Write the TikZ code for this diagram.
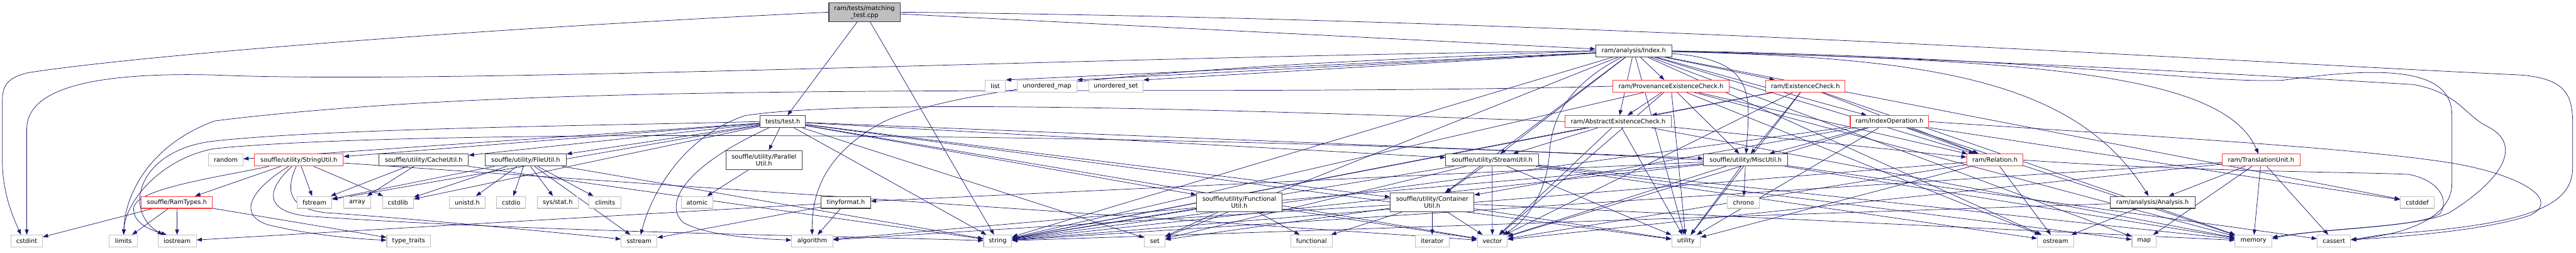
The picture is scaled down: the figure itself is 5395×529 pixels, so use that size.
\documentclass[tikz,border=0pt]{standalone}
\usepackage{fontspec}
\newfontfamily\dfont{DejaVu Sans}
\usetikzlibrary{arrows.meta}
\definecolor{edgeblue}{HTML}{191970}
\definecolor{sysgray}{HTML}{C0C0C0}
\definecolor{prjgray}{HTML}{404040}
\definecolor{truncred}{HTML}{FF3B3B}
\definecolor{mainfill}{HTML}{BFBFBF}
\pgfdeclarelayer{bg}
\pgfsetlayers{bg,main}
\tikzset{
  hdr/.style={rectangle, fill=white, line width=1.4pt, minimum height=25pt,
    inner sep=0pt, align=center, font=\dfont\fontsize{12.9}{15}\selectfont},
  sys/.style={hdr, draw=sysgray},
  prj/.style={hdr, draw=prjgray},
  trunc/.style={hdr, draw=truncred},
  dep/.style={draw=edgeblue, line width=0.95pt, -{Triangle[length=11pt,width=8pt]}},
}
\begin{document}
\begin{tikzpicture}[x=1pt,y=-1pt]
\useasboundingbox (0,0) rectangle (5395,529);
% ---------- nodes ----------
\node[prj, fill=mainfill, minimum width=149pt, minimum height=39pt] (mt) at (1810.5,25.5) {ram/tests/matching\\\_test.cpp};
\node[prj, minimum width=159pt] (ix) at (3421.5,106.5) {ram/analysis/Index.h};
\node[sys, minimum width=43pt] (list) at (2084.5,180.5) {list};
\node[sys, minimum width=124pt] (umap) at (2193,180.5) {unordered\_map};
\node[sys, minimum width=114pt] (uset) at (2337,180.5) {unordered\_set};
\node[trunc, minimum width=243pt] (pec) at (3499.5,180.5) {ram/ProvenanceExistenceCheck.h};
\node[trunc, minimum width=166pt] (ec) at (3781,180.5) {ram/ExistenceCheck.h};
\node[trunc, minimum width=222pt] (aec) at (3389,254.5) {ram/AbstractExistenceCheck.h};
\node[trunc, minimum width=164pt] (io) at (3957,254.5) {ram/IndexOperation.h};
\node[prj, minimum width=95pt] (th) at (1639.5,254.5) {tests/test.h};
% row 3
\node[sys, minimum width=72pt] (random) at (473,335) {random};
\node[trunc, minimum width=186pt] (strutil) at (626,335) {souffle/utility/StringUtil.h};
\node[prj, minimum width=187pt] (cache) at (887.5,335) {souffle/utility/CacheUtil.h};
\node[prj, minimum width=170pt] (file) at (1101,335) {souffle/utility/FileUtil.h};
\node[prj, minimum width=160pt, minimum height=40pt] (par) at (1600,335) {souffle/utility/Parallel\\Util.h};
\node[prj, minimum width=194pt] (stream) at (3125,335) {souffle/utility/StreamUtil.h};
\node[prj, minimum width=176pt] (misc) at (3656,335) {souffle/utility/MiscUtil.h};
\node[trunc, minimum width=118pt] (rel) at (4178,335) {ram/Relation.h};
\node[trunc, minimum width=163pt] (tu) at (4735.5,335) {ram/TranslationUnit.h};
% row 4
\node[trunc, minimum width=149pt] (ramtypes) at (370.5,423.5) {souffle/RamTypes.h};
\node[sys, minimum width=73pt] (fstream) at (658.5,423.5) {fstream};
\node[sys, minimum width=56pt] (array) at (748,423.5) {array};
\node[sys, minimum width=65pt] (cstdlib) at (833.5,423.5) {cstdlib};
\node[sys, minimum width=75pt] (unistd) at (978.5,423.5) {unistd.h};
\node[sys, minimum width=61pt] (cstdio) at (1070.5,423.5) {cstdio};
\node[sys, minimum width=86pt] (sysstat) at (1168,423.5) {sys/stat.h};
\node[sys, minimum width=67pt] (climits) at (1267.5,423.5) {climits};
\node[sys, minimum width=66pt] (atomic) at (1460,423.5) {atomic};
\node[prj, minimum width=103pt] (tinyformat) at (1771.5,423.5) {tinyformat.h};
\node[prj, minimum width=179pt, minimum height=39pt] (funcutil) at (2595.5,423.5) {souffle/utility/Functional\\Util.h};
\node[prj, minimum width=175pt, minimum height=39pt] (contutil) at (2999.5,423.5) {souffle/utility/Container\\Util.h};
\node[sys, minimum width=67pt] (chrono) at (3651.5,423.5) {chrono};
\node[prj, minimum width=178pt] (an) at (4508,423.5) {ram/analysis/Analysis.h};
\node[sys, minimum width=71pt] (cstddef) at (5062.5,423.5) {cstddef};
% row 5
\node[sys, minimum width=66pt] (cstdint) at (56,504.5) {cstdint};
\node[sys, minimum width=59pt] (limits) at (258.5,504.5) {limits};
\node[sys, minimum width=80pt] (iostream) at (371,504.5) {iostream};
\node[sys, minimum width=92pt] (typetraits) at (856,504.5) {type\_traits};
\node[sys, minimum width=75pt] (sstream) at (1338.5,504.5) {sstream};
\node[sys, minimum width=86pt] (algorithm) at (1701,504.5) {algorithm};
\node[sys, minimum width=59pt] (string) at (2089.5,504.5) {string};
\node[sys, minimum width=43pt] (set) at (2418.5,504.5) {set};
\node[sys, minimum width=87pt] (functional) at (2746.5,504.5) {functional};
\node[sys, minimum width=71pt] (iterator) at (2999.5,504.5) {iterator};
\node[sys, minimum width=63pt] (vector) at (3125.5,504.5) {vector};
\node[sys, minimum width=60pt] (utility) at (3531,504.5) {utility};
\node[sys, minimum width=76pt] (ostream) at (4305,504.5) {ostream};
\node[sys, minimum width=51pt] (map) at (4490.5,504.5) {map};
\node[sys, minimum width=77pt] (memory) at (4719.5,504.5) {memory};
\node[sys, minimum width=70pt] (cassert) at (4888,504.5) {cassert};
% ---------- edges ----------
\begin{pgfonlayer}{bg}
\foreach \t in {th,ix,string} \draw[dep] (mt) -- (\t);
\foreach \t in {random,strutil,cache,file,par,fstream,cstdlib,contutil,stream,misc,funcutil,string,set,vector,utility} \draw[dep] (th) -- (\t);
\foreach \t in {list.north east,umap.north east,uset.north east,pec,aec,ec,io,rel,stream,contutil,set,string,utility,ostream,map,cstddef} \draw[dep] (ix) -- (\t);
\foreach \t in {aec,rel,misc,utility,string,vector,ostream,memory} \draw[dep] (pec) -- (\t);
\foreach \t in {stream,rel,utility,string,vector,memory} \draw[dep] (aec) -- (\t);
\foreach \t in {aec,misc,rel,utility,string,vector,memory} \draw[dep] (ec) -- (\t);
\foreach \t in {misc,rel,contutil,string,vector,utility,memory,cstddef} \draw[dep] (io) -- (\t);
\foreach \t in {string,utility,vector,ostream} \draw[dep] (rel) -- (\t);
\foreach \t in {an,memory,cassert,map,string,vector} \draw[dep] (tu) -- (\t);
\foreach \t in {ostream,string} \draw[dep] (an) -- (\t);
\foreach \t in {chrono,tinyformat,algorithm,cassert,memory,string,utility,vector} \draw[dep] (misc) -- (\t);
\foreach \t in {contutil,vector,utility,string,set,map,ostream,memory} \draw[dep] (stream) -- (\t);
\foreach \t in {iterator,vector,functional,memory,utility,set,algorithm} \draw[dep] (contutil) -- (\t);
\foreach \t in {functional,vector,set,string} \draw[dep] (funcutil) -- (\t);
\foreach \t in {array,fstream,string} \draw[dep] (cache) -- (\t);
\foreach \t in {unistd,cstdio,sysstat,climits,fstream,sstream,string,cstdlib} \draw[dep] (file) -- (\t);
\foreach \t in {ramtypes,fstream,cstdlib,vector} \draw[dep] (strutil) -- (\t);
\foreach \t in {cstdint,limits,iostream,typetraits} \draw[dep] (ramtypes) -- (\t);
\draw[dep] (par) -- (atomic);
\foreach \t in {algorithm,sstream,iostream} \draw[dep] (tinyformat) -- (\t);
% curved edges, left side
\draw[dep] (mt.west) .. controls (1000,60) and (300,115) .. (60,152) .. controls (15,162) and (5,180) .. (5,210) -- (5,337) .. controls (5,400) and (25,450) .. ([xshift=-12pt]cstdint.north);
\draw[dep] (ix.west) .. controls (2300,118) and (950,178) .. (450,157) .. controls (180,150) and (56,190) .. (56,270) -- (cstdint);
\draw[dep] (pec.west) .. controls (2400,205) and (1200,160) .. (450,253) .. controls (320,300) and (262,400) .. (limits);
\draw[dep] (misc.west) .. controls (2600,280) and (900,265) .. (450,311) .. controls (340,330) and (262,420) .. (limits);
\draw[dep] (th.west) .. controls (1300,262) and (700,268) .. (450,295) .. controls (290,312) and (255,440) .. ([xshift=-30pt]iostream.north);
\draw[dep] (strutil) .. controls (450,372) and (285,395) .. (280,435) .. controls (278,465) and (310,480) .. ([xshift=-22pt]iostream.north);
\draw[dep] (strutil) .. controls (520,400) and (500,450) .. (560,470) .. controls (640,490) and (740,500) .. (typetraits);
\draw[dep] (strutil) .. controls (560,395) and (550,440) .. (640,452) .. controls (1100,485) and (1800,495) .. (string);
\draw[dep] (strutil) .. controls (600,395) and (600,435) .. (680,445) .. controls (900,460) and (1200,490) .. (sstream);
\draw[dep] (aec.west) .. controls (2600,230) and (1800,205) .. (1560,242) .. controls (1420,290) and (1360,420) .. (sstream);
\draw[dep] (th) .. controls (1450,340) and (1385,420) .. (1430,465) .. controls (1480,495) and (1600,500) .. (algorithm);
\draw[dep] (ix.west) .. controls (2600,135) and (2050,165) .. (1850,255) .. controls (1730,320) and (1700,400) .. (algorithm);
% curved edges, middle
\draw[dep] (ix) .. controls (3280,180) and (3250,250) .. (3245,320) .. controls (3240,400) and (3200,460) .. (vector);
\draw[dep] (ix) .. controls (3680,125) and (3665,200) .. (misc);
\draw[dep] (ix) .. controls (4300,125) and (4660,160) .. (tu);
\draw[dep] (ix) .. controls (4050,120) and (4350,170) .. (an);
% curved edges, right loops
\draw[dep] (mt.east) .. controls (3300,40) and (4600,125) .. (5280,157) .. controls (5375,165) and (5388,200) .. (5388,260) -- (5388,350) .. controls (5388,430) and (5300,470) .. (5000,490) .. controls (4960,495) and (4940,500) .. (cassert);
\draw[dep] (ix.east) .. controls (4300,120) and (4600,175) .. (4780,168) .. controls (4950,145) and (5135,130) .. (5135,240) -- (5135,385) .. controls (5135,450) and (5050,490) .. (cassert);
\draw[dep] (ix.east) .. controls (4300,130) and (4850,165) .. (5055,177) .. controls (5150,195) and (5160,240) .. (5210,265) .. controls (5280,300) and (5250,370) .. (5130,445) .. controls (5060,478) and (4850,478) .. ([yshift=5pt]memory.east);
\draw[dep] (io.east) .. controls (4500,285) and (4950,310) .. (5145,343) .. controls (5290,370) and (5360,420) .. (5300,450) .. controls (5200,485) and (5000,497) .. (cassert);
\draw[dep] (rel.east) .. controls (4600,360) and (4950,360) .. (5045,365) .. controls (5110,378) and (5130,420) .. (5110,447) .. controls (5070,475) and (4900,475) .. ([yshift=8pt]memory.east);
\end{pgfonlayer}
\end{tikzpicture}
\end{document}
